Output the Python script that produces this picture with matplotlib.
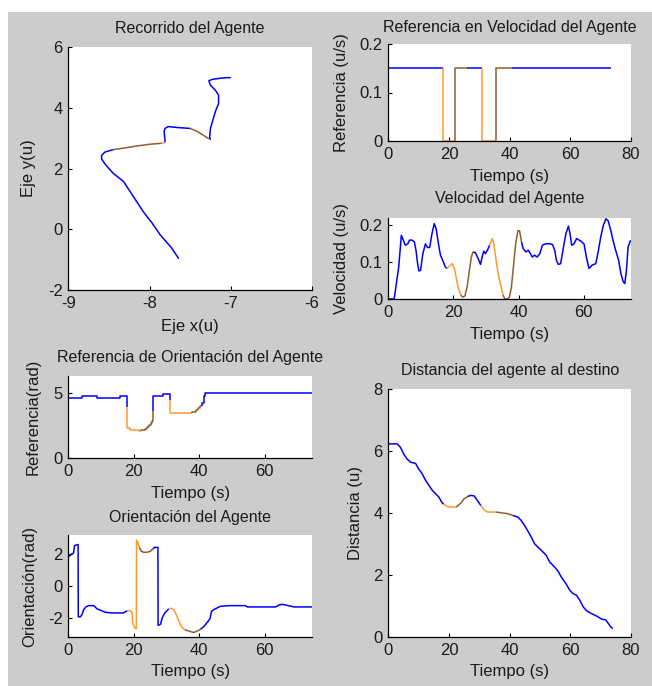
import numpy as np
import matplotlib
matplotlib.use('Agg')
import matplotlib.pyplot as plt
from matplotlib.patches import Rectangle
from matplotlib.ticker import FormatStrFormatter

plt.rcParams['font.family'] = ['Liberation Sans', 'DejaVu Sans']
plt.rcParams['axes.unicode_minus'] = False

# colours for the three controller modes
mode_colors = ['#0000ff', '#ff9933', '#8f5f2e']
# mode changes along time (s): blue / orange / brown
mode_bounds = [0, 18.0, 22.0, 25.8, 31.0, 35.5, 40.8]
mode_seq = [0, 1, 2, 0, 1, 2, 0]
t_end = 74.5

# trajectory (x, y) and mode of each point
path_x = [-7.64, -7.73, -7.87, -7.97, -8.08, -8.20, -8.32, -8.45, -8.54, -8.59, -8.59, -8.55, -8.45,
          -8.32, -8.16, -7.99, -7.85, -7.81,
          -7.81, -7.82, -7.81, -7.77, -7.66, -7.50,
          -7.42, -7.34, -7.27, -7.25,
          -7.26, -7.25, -7.22, -7.19, -7.15, -7.15, -7.19, -7.25, -7.27, -7.22, -7.13, -7.06, -7.00]
path_y = [-0.97, -0.61, -0.18, 0.21, 0.59, 1.08, 1.57, 1.85, 2.12, 2.31, 2.43, 2.54, 2.62,
          2.67, 2.74, 2.80, 2.83, 2.86,
          2.96, 3.21, 3.32, 3.38, 3.35, 3.32,
          3.23, 3.10, 2.98, 2.95,
          3.03, 3.32, 3.60, 3.87, 4.14, 4.41, 4.58, 4.74, 4.89, 4.94, 4.97, 4.99, 4.99]
path_mode = [0] * 13 + [2, 2, 2, 2, 1] + [0] * 6 + [2, 2, 2, 1] + [0] * 13

# speed reference (steps)
ref_vel_t = [0, 0, 18.0, 22.0, 25.8, 31.0, 35.5, 40.8, 73.5]
ref_vel = [0, 0.15, 0, 0.15, 0.15, 0, 0.15, 0.15, 0.15]

# measured speed
vel_t = [0, 1.8, 3.2, 4.0, 4.7, 5.2, 6.0, 6.5, 7.3, 8.0,
         8.5, 9.0, 9.4, 9.9, 10.6, 11.4, 12.0, 12.7, 13.4, 14.1,
         14.7, 15.3, 16.0, 16.7, 17.5, 18.0, 18.8, 19.6, 20.3, 20.8,
         21.4, 22.2, 22.9, 23.5, 24.2, 24.9, 25.5, 26.0, 26.8, 27.8,
         28.3, 28.8, 29.3, 29.8, 30.5, 31.1, 31.9, 32.4, 33.1, 33.7,
         34.5, 35.2, 35.8, 36.5, 37.2, 37.8, 38.5, 39.1, 39.8, 40.3,
         40.9, 41.4, 42.2, 43.0, 43.5, 44.2, 44.9, 45.7, 46.5, 47.3,
         48.3, 49.5, 50.4, 51.1, 51.6, 52.2, 52.9, 53.6, 54.5, 55.3,
         55.8, 56.3, 57.0, 57.8, 58.6, 59.4, 60.1, 60.8, 61.6, 62.6,
         63.7, 64.5, 65.2, 66.0, 66.8, 67.5, 68.3, 69.1, 69.8, 70.7,
         71.4, 72.1, 72.6, 73.1, 73.6, 74.3, 74.5]
vel = [0, 0, 0.087, 0.173, 0.158, 0.146, 0.150, 0.160, 0.160, 0.155,
       0.132, 0.096, 0.076, 0.078, 0.123, 0.150, 0.140, 0.140, 0.177, 0.205,
       0.190, 0.155, 0.119, 0.105, 0.087, 0.083, 0.089, 0.096, 0.083, 0.060,
       0.033, 0.011, 0.005, 0.008, 0.033, 0.078, 0.114, 0.128, 0.125, 0.105,
       0.094, 0.114, 0.130, 0.123, 0.134, 0.146, 0.164, 0.150, 0.105, 0.069,
       0.038, 0.011, 0.0, 0.0, 0.005, 0.033, 0.096, 0.150, 0.186, 0.185,
       0.155, 0.137, 0.128, 0.132, 0.125, 0.114, 0.119, 0.114, 0.123, 0.146,
       0.150, 0.150, 0.148, 0.132, 0.105, 0.094, 0.096, 0.132, 0.177, 0.198,
       0.177, 0.146, 0.150, 0.164, 0.160, 0.155, 0.149, 0.114, 0.083, 0.092,
       0.096, 0.132, 0.168, 0.200, 0.218, 0.212, 0.186, 0.155, 0.132, 0.105,
       0.069, 0.047, 0.042, 0.078, 0.141, 0.158, 0.156]

# orientation reference (steps)
ref_ori_t = [0, 0, 4.2, 8.8, 15.9, 17.9, 18.0, 19.0, 20.0, 21.5,
             22.3, 23.4, 24.1, 24.8, 25.4, 25.7, 25.75, 25.85, 29.0, 30.95,
             31.05, 37.9, 38.9, 39.7, 40.4, 40.9, 41.4, 41.9, 42.4, 74.5]
ref_ori = [0, 4.61, 4.74, 4.61, 4.77, 3.90, 2.27, 2.16, 2.11, 2.06,
           2.16, 2.22, 2.37, 2.50, 2.68, 2.80, 3.58, 4.74, 4.87, 4.48,
           3.45, 3.56, 3.66, 3.84, 3.97, 4.23, 4.74, 4.95, 5.00, 5.00]

# measured orientation
ori_t = [0, 0.6, 1.1, 1.6, 1.9, 2.65, 3.0, 3.05, 3.7, 4.2,
         4.7, 5.4, 6.2, 7.8, 8.8, 9.8, 11.3, 13.4, 16.9, 18.0,
         19.0, 19.5, 19.8, 20.3, 20.8, 20.85, 21.3, 21.7, 22.3, 23.0,
         24.1, 25.1, 25.8, 26.4, 27.4, 27.45, 28.2, 28.7, 29.5, 30.7,
         31.5, 32.2, 33.0, 33.8, 34.6, 35.6, 36.8, 38.4, 39.4, 40.4,
         41.4, 42.4, 43.3, 43.8, 44.5, 45.5, 46.5, 49.1, 54.2, 54.7,
         63.4, 64.4, 65.4, 66.4, 69.0, 74.5]
ori = [1.82, 1.88, 1.98, 2.02, 2.48, 2.55, 2.55, -1.90, -1.90, -1.76,
       -1.45, -1.29, -1.21, -1.21, -1.41, -1.49, -1.62, -1.66, -1.66, -1.52,
       -1.52, -1.66, -2.36, -2.57, -2.63, 2.83, 2.69, 2.38, 2.14, 2.08,
       2.08, 2.14, 2.28, 2.38, 2.38, -2.42, -2.36, -1.96, -1.66, -1.41,
       -1.37, -1.45, -1.76, -2.16, -2.50, -2.70, -2.77, -2.87, -2.77, -2.67,
       -2.50, -2.26, -2.02, -1.56, -1.45, -1.35, -1.25, -1.21, -1.21, -1.29,
       -1.29, -1.17, -1.13, -1.17, -1.29, -1.29]

# distance to goal
dist_t = [0, 2.9, 4.0, 5.1, 6.2, 7.3, 9.0, 10.0, 11.2, 12.3,
          13.4, 14.5, 15.6, 16.7, 17.6, 18.3, 19.4, 21.1, 22.4, 23.9,
          25.0, 26.1, 27.2, 28.3, 29.4, 30.5, 31.6, 32.7, 35.5, 37.7,
          39.3, 41.0, 42.7, 43.8, 44.9, 46.0, 47.1, 48.2, 49.3, 50.4,
          52.0, 53.2, 54.8, 55.9, 57.0, 58.7, 59.8, 60.9, 62.0, 63.1,
          64.2, 65.3, 66.9, 68.6, 70.3, 71.7, 72.5, 73.3, 74.0]
dist = [6.23, 6.23, 6.12, 5.90, 5.74, 5.64, 5.60, 5.42, 5.26, 5.05,
        4.89, 4.73, 4.62, 4.51, 4.35, 4.28, 4.21, 4.19, 4.19, 4.32,
        4.46, 4.53, 4.57, 4.55, 4.40, 4.24, 4.10, 4.03, 4.03, 4.00,
        3.98, 3.92, 3.87, 3.76, 3.60, 3.42, 3.23, 3.01, 2.90, 2.80,
        2.64, 2.42, 2.26, 2.13, 1.94, 1.70, 1.51, 1.40, 1.35, 1.19,
        0.98, 0.85, 0.76, 0.68, 0.58, 0.55, 0.44, 0.33, 0.27]


def mode_at(t):
    idx = np.searchsorted(mode_bounds, t, side='right') - 1
    return np.array(mode_seq)[np.clip(idx, 0, len(mode_seq) - 1)]


def draw_runs(ax, x, y, seg_mode):
    # plot consecutive segments of the same mode as one line
    x = np.asarray(x)
    y = np.asarray(y)
    i = 0
    n = len(seg_mode)
    while i < n:
        j = i
        while j + 1 < n and seg_mode[j + 1] == seg_mode[i]:
            j += 1
        ax.plot(x[i:j + 2], y[i:j + 2], color=mode_colors[seg_mode[i]], lw=1.1,
                solid_joinstyle='round', solid_capstyle='butt')
        i = j + 1


def draw_series(ax, t, y):
    t = np.asarray(t, float)
    draw_runs(ax, t, y, mode_at((t[:-1] + t[1:]) / 2))


def draw_steps(ax, t, y):
    xs = np.repeat(np.asarray(t, float), 2)[1:]
    ys = np.repeat(np.asarray(y, float), 2)[:-1]
    draw_series(ax, xs, ys)


W, H = 652, 686
fig = plt.figure(figsize=(W / 100, H / 100), dpi=100, facecolor='white')
fig.add_artist(Rectangle((8 / W, 0), 1, (H - 12) / H, transform=fig.transFigure,
                         facecolor='#cccccc', edgecolor='none', zorder=-10))


def make_ax(l, r, top, bot):
    ax = fig.add_axes([l / W, 1 - bot / H, (r - l) / W, (bot - top) / H])
    ax.set_facecolor('white')
    for s in ['top', 'right']:
        ax.spines[s].set_visible(False)
    for s in ['left', 'bottom']:
        ax.spines[s].set_linewidth(0.9)
    ax.tick_params(direction='in', length=3, width=0.8, labelsize=12, pad=4,
                   colors='black')
    ax.tick_params(labelcolor='#1a1a1a')
    return ax


def style(ax, title, ty, xlabel, xly, ylabel, ylx):
    ax.set_title(title, fontsize=11.5, y=ty, va='center', pad=0, color='#1a1a1a')
    ax.set_xlabel(xlabel, fontsize=12, va='center', color='#1a1a1a')
    ax.xaxis.set_label_coords(0.5, xly)
    ax.set_ylabel(ylabel, fontsize=12, va='center', color='#1a1a1a')
    ax.yaxis.set_label_coords(ylx, 0.5)


# Recorrido del Agente
ax1 = make_ax(68.3, 312, 47, 290)
seg = [path_mode[i + 1] for i in range(len(path_x) - 1)]
draw_runs(ax1, path_x, path_y, seg)
ax1.set_xlim(-9, -6)
ax1.set_ylim(-2, 6)
ax1.set_xticks([-9, -8, -7, -6])
ax1.set_yticks([-2, 0, 2, 4, 6])
style(ax1, 'Recorrido del Agente', 1.078, 'Eje x(u)', -0.152, 'Eje y(u)', -0.165)

# Referencia en Velocidad
ax2 = make_ax(388.3, 631, 44, 141)
draw_steps(ax2, ref_vel_t, ref_vel)
ax2.set_xlim(0, 80)
ax2.set_ylim(0, 0.2)
ax2.set_xticks([0, 20, 40, 60, 80])
ax2.set_yticks([0, 0.1, 0.2])
ax2.yaxis.set_major_formatter(FormatStrFormatter('%g'))
style(ax2, 'Referencia en Velocidad del Agente', 1.175, 'Tiempo (s)', -0.371,
      'Referencia (u/s)', -0.191)

# Velocidad del Agente
ax3 = make_ax(388.3, 631, 218, 299)
draw_series(ax3, vel_t, vel)
ax3.set_xlim(0, t_end)
ax3.set_ylim(0, 0.22)
ax3.set_xticks([0, 20, 40, 60])
ax3.set_yticks([0, 0.1, 0.2])
ax3.yaxis.set_major_formatter(FormatStrFormatter('%g'))
style(ax3, 'Velocidad del Agente', 1.235, 'Tiempo (s)', -0.444,
      'Velocidad (u/s)', -0.191)

# Referencia de Orientacion
ax4 = make_ax(68.3, 312, 376, 458)
draw_steps(ax4, ref_ori_t, ref_ori)
ax4.set_xlim(0, t_end)
ax4.set_ylim(0, 2 * np.pi)
ax4.set_xticks([0, 20, 40, 60])
ax4.set_yticks([0, 5])
style(ax4, 'Referencia de Orientación del Agente', 1.22, 'Tiempo (s)', -0.439,
      'Referencia(rad)', -0.145)

# Orientacion del Agente
ax5 = make_ax(68.3, 312, 535, 637)
draw_series(ax5, ori_t, ori)
ax5.set_xlim(0, t_end)
ax5.set_ylim(-np.pi, np.pi)
ax5.set_xticks([0, 20, 40, 60])
ax5.set_yticks([-2, 0, 2])
style(ax5, 'Orientación del Agente', 1.176, 'Tiempo (s)', -0.343,
      'Orientación(rad)', -0.157)

# Distancia al destino
ax6 = make_ax(388.3, 631, 389, 637)
draw_series(ax6, dist_t, dist)
ax6.set_xlim(0, 80)
ax6.set_ylim(0, 8)
ax6.set_xticks([0, 20, 40, 60, 80])
ax6.set_yticks([0, 2, 4, 6, 8])
style(ax6, 'Distancia del agente al destino', 1.073, 'Tiempo (s)', -0.141,
      'Distancia (u)', -0.137)

fig.savefig('out.png', dpi=100, facecolor=fig.get_facecolor())
